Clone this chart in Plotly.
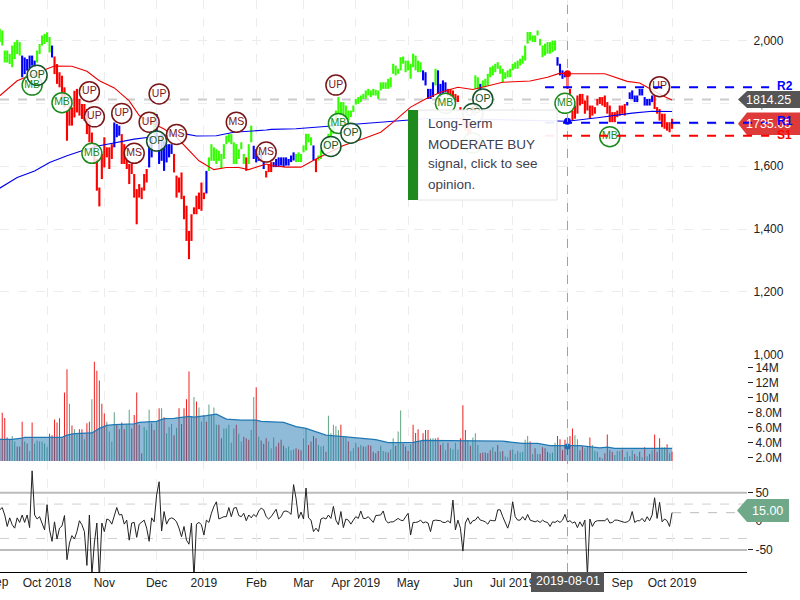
import plotly.graph_objects as go

first_day = -19
bar_high = [
 2037,2032,1968,1968,1957,1984,1995,2002,1995,1952, 1946,1941,1952,1952,1936,1968,1989,2016,2021,2026,
 2011,1984,1949,1925,1899,1888,1851,1777,1793,1787, 1840,1846,1814,1798,1798,1782,1745,1707,1670,1623,
 1532,1639,1692,1660,1660,1670,1739,1734,1729,1702, 1670,1628,1607,1607,1575,1527,1543,1532,1575,1591,
 1670,1692,1771,1766,1670,1702,1681,1670,1670,1670, 1639,1570,1564,1580,1506,1474,1394,1447,1469,1506,
 1516,1548,1516,1585,1628,1670,1660,1654,1649,1639, 1670,1697,1702,1702,1676,1670,1654,1676,1639,1628,
 1670,1729,1665,1654,1649,1639,1617,1585,
 1607,1613,1613,1623,1628,1628,1628,1628,1623,1634, 1644,1639,1644,1639,1666,1703,1703,1692,1666,1623,
 1634,1650,1666,1682,1703,1713,1745,1777,1820,1804, 1804,1793,1777,1777,1793,1814,1820,1825,1830,1841,
 1846,1841,1846,1843,1841,1867,1867,1867,1878,1883, 1926,1920,1910,1947,1949,1936,1936,1926,1958,1952,
 1936,1931,1905,1899,1846,1846,1867,1910,1905,1862, 1873,1867,1846,1846,1841,1830,1825,1788,1756,1745,
 1729,1745,1790,1889,1883,1862,1873,1878,1894,1915, 1920,1926,1931,1920,1910,1899,1905,1910,1926,1931,
 1936,1942,1952,1984,2027,2027,2016,
 2016,2032,2005,1984,1990,1995,1995,2000,2000,1947, 1926,1905,1899,1899,1846,1777,1793,1825,1830,1830,
 1809,1825,1793,1793,1788,1814,1820,1820,1825,1804, 1793,1772,1772,1777,1793,1793,1798,1804,1835,1841,
 1825,1825,1846,1846,1820,1814,1814,1825,1825,1788, 1782,1767,1767,1740,1740,1751]
bar_low = [
 1995,1984,1930,1930,1925,1915,1941,1957,1952,1883, 1893,1904,1909,1920,1915,1930,1957,1984,1989,1995,
 1962,1946,1893,1862,1851,1819,1787,1681,1729,1729, 1755,1771,1761,1750,1745,1702,1676,1670,1607,1522,
 1472,1559,1596,1628,1591,1623,1660,1692,1697,1607, 1607,1591,1543,1575,1500,1415,1500,1495,1522,1548,
 1596,1628,1700,1692,1607,1617,1585,1612,1628,1639, 1580,1500,1516,1495,1431,1362,1304,1362,1447,1447,
 1463,1458,1495,1513,1585,1617,1617,1607,1617,1591, 1623,1670,1676,1670,1607,1607,1623,1654,1607,1585,
 1607,1676,1623,1612,1617,1617,1591,1564,
 1581,1581,1597,1597,1597,1602,1597,1602,1602,1613, 1618,1613,1613,1613,1644,1650,1676,1666,1618,1581,
 1618,1623,1639,1660,1671,1682,1703,1745,1767,1761, 1756,1751,1745,1756,1772,1796,1798,1804,1814,1814,
 1825,1820,1825,1825,1814,1841,1846,1846,1846,1851, 1894,1889,1894,1905,1926,1899,1905,1878,1915,1905,
 1899,1899,1873,1857,1814,1814,1820,1857,1830,1820, 1830,1835,1825,1820,1820,1804,1804,1777,1729,1713,
 1692,1700,1745,1846,1846,1841,1851,1851,1857,1883, 1889,1899,1910,1894,1867,1878,1883,1883,1905,1910,
 1910,1920,1926,1936,1990,2000,1995,
 1995,2016,1984,1947,1952,1958,1958,1963,1968,1920, 1889,1878,1883,1846,1830,1745,1751,1767,1793,1798,
 1767,1777,1751,1761,1767,1793,1798,1793,1788,1767, 1740,1740,1740,1756,1761,1767,1761,1793,1814,1814,
 1804,1804,1825,1825,1793,1793,1793,1804,1782,1767, 1745,1724,1719,1713,1708,1719]
state_runs = [("G",9),("B",6),("G",6),("B",1),("R",24),("B",3),("R",11),("B",2),("G",1),("B",7),("R",13),
 ("B",1),("G",15),("R",1),("G",2),("B",5),("R",1),("R",2),("B",9),("G",7),("B",1),("R",1),("G",42),("B",5),
 ("G",1),("B",4),("R",11),("G",2),("B",1),("G",21),("G",9),("B",4),("R",24),("B",11),("R",8)]

ma_long_days = [-19,-12,-5,1,8,14,21,28,35,41,48,56,60,68,75,88,90,100,112,127,143,152,165,205,209,221,235,243,251]
ma_long = [1530,1564,1585,1612,1633,1649,1665,1676,1686,1692,1699,1702,1696,1697,1708,1715,1717,1719,1726,1735,1745,1751,1751,1745,1743,1754,1769,1775,1774]
ma_short_days = [-19,-12,-5,0,3,10,16,21,27,33,37,43,47,52,56,61,67,72,77,81,88,90,96,102,108,115,119,127,134,139,146,152,158,165,171,183,194,201,206,209,218,224,233,238,247,251]
ma_short = [1824,1872,1895,1911,1919,1918,1902,1872,1849,1808,1761,1734,1718,1692,1660,1617,1589,1596,1596,1589,1607,1602,1597,1597,1623,1650,1666,1687,1708,1740,1788,1814,1835,1851,1844,1867,1871,1883,1896,1894,1894,1894,1870,1865,1825,1811]

signal_days = [-6,-4,6,17,19,30,35,45,41,44,52,18,76,88,116,117,122,114,160,175,171,171,208,246,226]
signal_price = [1858,1889,1802,1837,1757,1768,1641,1830,1740,1680,1701,1641,1740,1645,1858,1736,1705,1663,1800,1814,1768,1674,1800,1853,1694]
signal_text = ["MB","OP","MB","UP","UP","UP","MS","UP","UP","OP","MS","MB","MS","MS","UP","MB","OP","OP","MB","OP","OP","MB","MB","UP","MB"]

volume = [
 4.6,8.0,7.3,4.7,4.4,4.9,4.15,3.5,3.5,6.8, 4.15,3.9,2.9,6.7,3.9,4.3,4.15,4.15,3.9,3.4,
 5.2,5.0,7.1,6.7,7.25,4.6,10.7,13.8,9.2,6.3, 5.8,5.25,5.8,5.8,4.45,6.6,6.8,9.8,14.8,13.6,
 12.3,9.2,7.9,6.8,5.5,4.15,8.05,6.4,5.8,6.7, 5.8,6.4,8.4,5.9,7.7,10.7,6.4,2.6,6.1,5.7,
 8.4,6.6,5.7,6.8,8.6,8.6,7.4,5.25,6.1,6.5, 5.0,6.0,8.6,6.5,8.6,9.8,13.5,7.5,10.1,9.5,
 8.7,6.8,7.7,6.8,9.1,7.7,8.7,6.4,6.4,4.6, 5.9,5.9,6.4,4.0,5.9,6.4,5.2,4.15,4.8,4.6,
 4.4,5.7,10.1,11.4,4.8,4.3,3.85,4.6,4.15,3.25, 4.7,3.5,4.0,4.4,3.6,3.25,3.5,3.0,3.1,3.25,
 3.1,3.0,4.6,5.9,3.7,4.15,4.9,4.6,3.7,3.5, 3.6,2.8,7.6,5.25,6.4,6.2,5.7,6.4,4.7,4.8,
 4.15,2.9,3.25,4.0,3.4,3.7,3.5,3.5,3.7,3.6, 2.8,2.6,2.9,3.6,2.9,2.8,2.7,3.1,4.6,3.6,
 5.5,8.3,3.9,3.5,2.9,3.8,6.4,5.3,5.8,4.15, 5.25,5.7,5.7,4.6,4.6,4.6,4.7,3.7,4.0,3.0,
 4.0,3.25,3.1,4.0,3.1,4.6,9.0,5.7,4.3,3.6, 4.7,5.25,3.7,2.6,2.7,2.7,2.6,3.0,3.4,2.8,
 3.7,2.8,2.9,2.2,2.05,3.0,3.1,2.5,2.9,2.7, 2.8,4.4,4.9,4.15,2.5,3.25,2.5,2.5,3.4,3.25,
 2.8,2.6,2.7,4.0,4.9,4.45,3.0,4.4,4.6,4.9, 5.9,5.0,4.45,3.0,3.5,3.25,3.5,4.7,3.7,2.9,
 2.8,2.05,1.9,2.6,5.1,3.0,2.8,2.36,2.9,2.9, 3.1,2.1,2.8,2.2,3.0,2.5,2.2,2.8,2.05,3.4,
 2.2,2.5,3.0,5.1,2.8,4.6,3.4,3.4,3.8,2.6, 2.8]
volume_side = ("RRRRRGGRRR" "GRGRGGGGGG" "RRRRRRRRGR" "GGRRGRRGRR" "RRRGGGGRRR" "RGGRRRRRGG"
 "GRRGRGRGGG" "RGRRRRRGGR" "GGGRGGGGRR" "GGGGGRGGRR" "RGGRGRRRGG" "GRRRRGGGGR" "RRGGRRRRGG"
 "GRGGGGGRGG" "RGGGRGRGRR" "RRRGGGRGGR" "GGRRRGRRRG" "RRRGGGRRGG" "RGGGGRRRGR" "GGGRRRRRGR"
 "RGRGGRGGGG" "GGGRGRGRRR" "RGGGRRRRRR" "RGGRRGGRGG" "GRGRRRRGGG" "RGGGGRGRGR" "GRGRRRGGRG" "R")

vol_avg_days = [-19,-14,-10,-9,6,8,11,18,21,24,27,35,37,44,47,51,57,59,64,68,72,78,84,86,95,100,104,112,119,123,132,137,147,151,163,167,183,191,197,202,214,222,225,228,251]
vol_avg = [4.45,4.45,4.6,4.7,4.7,5.0,5.2,5.3,5.9,6.3,6.4,6.5,6.7,6.85,7.2,7.25,7.5,7.4,7.6,7.8,7.15,7.0,7.0,6.85,6.7,6.15,5.9,5.0,4.8,4.7,4.4,4.0,4.05,4.3,4.3,4.2,4.2,3.9,3.9,3.6,3.6,3.3,3.4,3.25,3.25]

cci = [
 20,24,11,-9,6,-6,-12,6,-2,11, -2,11,-11,88,11,4,8,-3,-15,29,
 -15,-35,-1,-31,-12,-8,10,-67,-38,-25, -31,-18,1,-6,-18,-77,11,-94,-38,-3,
 -100,-3,-18,4,2,-5,8,24,11,12, -5,2,-33,-3,-2,-28,-5,-1,2,-12,
 -35,6,-1,46,69,-17,17,-5,4,6, 4,-1,-12,-27,-9,-33,-40,-3,-100,-5,
 -2,-6,-24,2,-2,14,26,34,4,6, 8,8,24,8,23,24,10,8,14,1,
 11,6,12,8,18,23,20,8,4,8, 14,21,4,8,17,18,16,12,64,40,
 5,16,4,58,6,2,-18,-12,-18,4, 6,4,11,5,26,2,-6,17,-11,4,
 2,-5,2,8,5,18,5,5,8,2, -2,10,10,11,18,2,-3,-1,-1,2,
 5,2,1,8,14,-24,-2,-2,-1,2, -3,-1,-3,-18,1,2,2,1,-2,-2,
 1,-3,37,-15,2,-12,-52,-3,6,-5, 1,2,8,2,1,-1,-5,2,1,1,
 20,20,8,-2,-12,2,34,8,2,2, 8,2,12,2,1,-1,1,-2,2,-1,
 -2,-9,-1,-2,1,-2,2,12,-1,1, -3,-1,-11,-1,-9,2,-95,4,-9,-1,
 1,1,2,1,5,-3,-2,2,2,1, -1,-2,-1,2,17,-2,1,1,5,-1,
 8,1,11,41,5,33,-1,4,1,-9, 15]

month_days = [0,23,44,63,84,103,124,145,167,187,209,231,251]
month_labels = ["Oct 2018","Nov","Dec","2019","Feb","Mar","Apr 2019","May","Jun","Jul 2019","Aug","Sep","Oct 2019"]
volume_ticks = [2,4,6,8,10,12,14]
volume_tick_text = ["2.0M","4.0M","6.0M","8.0M","10M","12M","14M"]
cci_ticks = [-50,0,50]
cci_tick_text = ["-50","0","50"]
price_ticks = [1000,1200,1400,1600,1800,2000]

cursor_day = 209
cursor_price = 1812
last_price = 1735.05
last_cci = 15.0
pivot_start, pivot_end = 200, 290
pivot_levels = [("R2",1851,"#0000ff"),("R1",1738,"#0000ff"),("S1",1697,"#ff0000")]
tooltip_lines = ["Long-Term","MODERATE BUY","signal, click to see","opinion."]

W, H = 800, 600
PW, PH = 747, 572
X_MIN, X_MAX = -18.9, 281.1
def px(v): return v / PW
def py(v): return (PH - v) / PH
def day_paper(d): return (d - X_MIN) / (X_MAX - X_MIN)

days = [first_day + k for k in range(len(bar_high))]
states = [s for s, n in state_runs for _ in range(n)]
fig = go.Figure()
for code, col in (("G","#33ff00"),("B","#0000ff"),("R","#ff0000")):
    sel = [k for k, s in enumerate(states) if s == code]
    fig.add_trace(go.Bar(x=[days[k] for k in sel], base=[bar_low[k] for k in sel],
                         y=[bar_high[k]-bar_low[k] for k in sel], width=0.85,
                         marker=dict(color=col, line=dict(width=0)), yaxis="y", hoverinfo="skip"))
fig.add_trace(go.Scatter(x=ma_long_days, y=ma_long, mode="lines", line=dict(color="#0000ee", width=1.1), yaxis="y", hoverinfo="skip"))
fig.add_trace(go.Scatter(x=ma_short_days, y=ma_short, mode="lines", line=dict(color="#ee0000", width=1.1), yaxis="y", hoverinfo="skip"))
fig.add_trace(go.Scatter(x=[cursor_day], y=[1743], mode="markers", marker=dict(color="#0000ee", size=7), yaxis="y", hoverinfo="skip"))
fig.add_trace(go.Scatter(x=[cursor_day], y=[1894], mode="markers", marker=dict(color="#ee0000", size=7), yaxis="y", hoverinfo="skip"))
sig_style = {"MB":("#1a8a1a","#1a8a1a"),"OP":("#14532a","#14532a"),"UP":("#7a1518","#7a1518"),"MS":("#7a1518","#7a1518")}
fig.add_trace(go.Scatter(x=signal_days, y=signal_price, mode="markers+text", text=signal_text,
    textposition="middle center", textfont=dict(size=10.5, family="Liberation Sans", color=[sig_style[t][1] for t in signal_text]),
    marker=dict(size=20, color="rgba(255,255,255,0.82)", line=dict(width=1.5, color=[sig_style[t][0] for t in signal_text])),
    yaxis="y", hoverinfo="skip"))

vdays = [first_day + k for k in range(len(volume))]
for code, col in (("R","rgba(238,34,34,0.99)"),("G","rgba(95,165,130,0.99)")):
    sel = [k for k, s in enumerate(volume_side) if s == code]
    fig.add_trace(go.Bar(x=[vdays[k] for k in sel], y=[volume[k] for k in sel], width=0.41,
                         marker=dict(color=col, line=dict(width=0)), yaxis="y2", hoverinfo="skip"))
fig.add_trace(go.Scatter(x=vol_avg_days, y=vol_avg, mode="lines", fill="tozeroy", fillcolor="rgba(31,119,180,0.5)",
                         line=dict(color="#1f77b4", width=1.3), yaxis="y2", hoverinfo="skip"))
fig.add_trace(go.Scatter(x=[cursor_day], y=[3.5], mode="markers", marker=dict(color="#1f6fb0", size=6), yaxis="y2", hoverinfo="skip"))
fig.add_trace(go.Scatter(x=days[:len(cci)], y=cci, mode="lines", line=dict(color="#222222", width=1), yaxis="y3", hoverinfo="skip"))

grid = dict(showgrid=True, gridcolor="#ececec", griddash="dash", gridwidth=1, zeroline=False)
tf = dict(family="Liberation Sans", size=12, color="#222222")
split1, split2 = py(355), py(461)
shapes = []
shapes.append(dict(type="line", xref="paper", yref="y", x0=0, x1=px(738), y0=cursor_price, y1=cursor_price,
                   line=dict(color="#cccccc", width=2, dash="dash"), layer="below"))
shapes.append(dict(type="line", xref="x", yref="paper", x0=cursor_day, x1=cursor_day, y0=0, y1=1,
                   line=dict(color="#a0a0a0", width=1, dash="dash"), layer="above"))
shapes.append(dict(type="line", xref="x", yref="y", x0=251, x1=278, y0=last_price, y1=last_price,
                   line=dict(color="#bbbbbb", width=1, dash="dash"), layer="below"))
shapes.append(dict(type="line", xref="x", yref="y3", x0=251, x1=278, y0=last_cci, y1=last_cci,
                   line=dict(color="#bbbbbb", width=1, dash="dash"), layer="below"))
for lev, col, wid, dash in ((50,"#bcbcbc",2,"solid"),(-50,"#bcbcbc",2,"solid"),(30,"#d0d0d0",1,"dash"),(-30,"#d0d0d0",1,"dash")):
    shapes.append(dict(type="line", xref="paper", yref="y3", x0=0, x1=1, y0=lev, y1=lev,
                       line=dict(color=col, width=wid, dash=dash), layer="below"))
def tag(color, top, bot, tip, right=800):
    mid = (top + bot) / 2
    path = f"M {px(tip)} {py(mid)} L {px(747)} {py(top)} L {px(right)} {py(top)} L {px(right)} {py(bot)} L {px(747)} {py(bot)} Z"
    return dict(type="path", xref="paper", yref="paper", path=path, fillcolor=color, line=dict(width=0), layer="above")
shapes.append(tag("#555555", 91, 108, 738))
shapes.append(tag("#de3a3a", 112.5, 135, 738))
shapes.append(tag("#6fa98a", 499, 522, 737, 789))
shapes.append(dict(type="rect", xref="paper", yref="paper", x0=px(531), x1=px(604), y0=py(592), y1=py(572),
                   fillcolor="#555555", line=dict(width=0), layer="above"))
for name, val, col in pivot_levels:
    shapes.append(dict(type="line", xref="paper", yref="y", x0=day_paper(pivot_start), x1=day_paper(pivot_end),
                       y0=val, y1=val, line=dict(color=col, width=2, dash="dash"), layer="above"))
shapes.append(dict(type="rect", xref="paper", yref="paper", x0=px(418), x1=px(557), y0=py(200), y1=py(110),
                   fillcolor="rgba(255,255,255,0.93)", line=dict(color="#e4e4e4", width=1), layer="above"))
shapes.append(dict(type="rect", xref="paper", yref="paper", x0=px(408), x1=px(418), y0=py(200), y1=py(110),
                   fillcolor="#1e8a1e", line=dict(width=0), layer="above"))

ann = []
def label(text, x, y, size=12, color="#ffffff", anchor="center", bold=False):
    t = f"<b>{text}</b>" if bold else text
    ann.append(dict(text=t, x=px(x), y=py(y), xref="paper", yref="paper", xanchor=anchor, yanchor="middle",
                    showarrow=False, font=dict(family="Liberation Sans", size=size, color=color)))
label("1814.25", 769, 100, 12.5)
label("1735.05", 769, 124, 12.5)
label("15.00", 768, 511, 12.5)
label("2019-08-01", 567.5, 581, 12.5)
label("Sep", -2, 581.5, 12, "#222222")
for (name, val, col), yy in zip(pivot_levels, (86, 121, 135)):
    label(name, 784.5, yy, 12, col, bold=True)
for line, yy in zip(tooltip_lines, (124, 144, 164, 184)):
    label(line, 425.5, yy, 13.5, "#40404f", "left")

fig.update_layout(
    width=W, height=H, margin=dict(l=0, r=W-PW, t=0, b=H-PH), paper_bgcolor="white", plot_bgcolor="white",
    showlegend=False, barmode="overlay", font=tf, shapes=shapes, annotations=ann,
    xaxis=dict(range=[X_MIN, X_MAX], anchor="y3", tickmode="array", tickvals=month_days, ticktext=month_labels,
               showline=True, linecolor="#000000", linewidth=1, ticks="", tickfont=tf, **grid),
    yaxis=dict(domain=[split1, 1], range=[999, 2128.9], side="right", anchor="x", tickmode="array", tickvals=price_ticks,
               tickformat=",", ticks="outside", ticklen=3, tickcolor="rgba(0,0,0,0)", tickfont=tf, **grid),
    yaxis2=dict(domain=[split2, split1], range=[1.56, 15.69], side="right", anchor="x", tickmode="array", tickvals=volume_ticks,
                ticktext=volume_tick_text, ticks="outside", ticklen=5, tickcolor="#222222", tickfont=tf, showgrid=False, zeroline=False),
    yaxis3=dict(domain=[0, split2], range=[-88.5, 105.2], side="right", anchor="x", tickmode="array", tickvals=cci_ticks,
                ticktext=cci_tick_text, ticks="outside", ticklen=5, tickcolor="#222222", tickfont=tf, showgrid=False, zeroline=False),
)
fig.write_html("out.html", config={"displayModeBar": False}, post_script="document.body.style.margin='0';")
